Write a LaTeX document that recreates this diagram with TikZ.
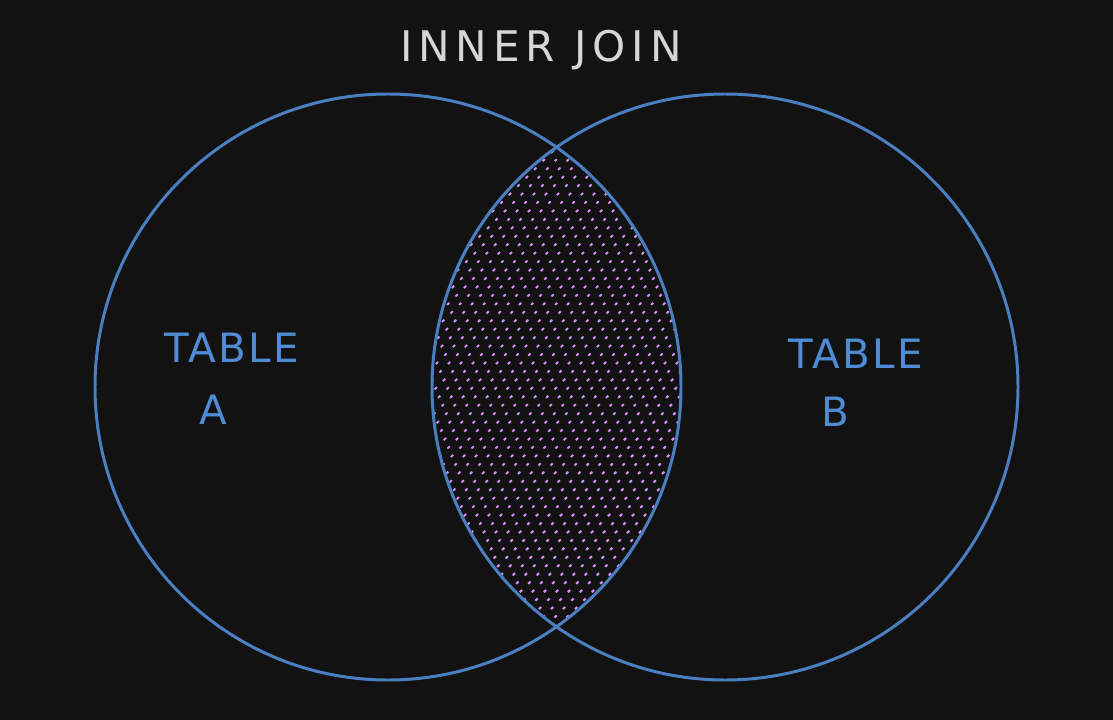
\documentclass[tikz,border=0pt]{standalone}
\usepackage{fontspec}
\newfontfamily\handfont[LetterSpace=6]{DejaVu Sans}
\newfontfamily\titlefont[LetterSpace=14]{DejaVu Sans}
\definecolor{bgdark}{HTML}{121212}
\definecolor{setblue}{HTML}{4A7FC1}
\definecolor{labelblue}{HTML}{4F8CD3}
\definecolor{titlegray}{HTML}{D6D6D6}
\definecolor{hatchpink}{HTML}{D58CF5}
\tikzset{
  setcircle/.style={draw=setblue, line width=1.7pt},
  setlabel/.style={text=labelblue, font=\handfont\fontsize{23}{26}\selectfont, inner sep=0pt},
  hatchline/.style={draw=hatchpink, line width=1.2pt, dash pattern=on 1.8pt off 5pt}
}
\begin{document}
\begin{tikzpicture}[x=0.02cm, y=-0.02cm]
% Background and bounds
\fill[bgdark] (0,0) rectangle (1113,720);
\useasboundingbox (0,0) rectangle (1113,720);
\coordinate (centerA) at (388,387);
\coordinate (centerB) at (725,387);
% Hatch the common part
\begin{scope}
\clip (centerA) circle [radius=293];
\clip (centerB) circle [radius=293];
\foreach \c in {560,572,...,1210}
  \draw[hatchline] (\c-100,100) -- (\c-700,700);
\end{scope}
% Draw circles
\draw[setcircle] (centerA) circle [radius=293];
\draw[setcircle] (centerB) circle [radius=293];
% Labels
\node[text=titlegray, font=\titlefont\fontsize{24}{28}\selectfont, inner sep=0pt] (title) at (541,50) {INNER JOIN};
\node[setlabel] (tableA) at (232,348) {TABLE};
\node[setlabel] (nameA) at (213,410) {A};
\node[setlabel] (tableB) at (856,354) {TABLE};
\node[setlabel] (nameB) at (835,412) {B};
\end{tikzpicture}
\end{document}
